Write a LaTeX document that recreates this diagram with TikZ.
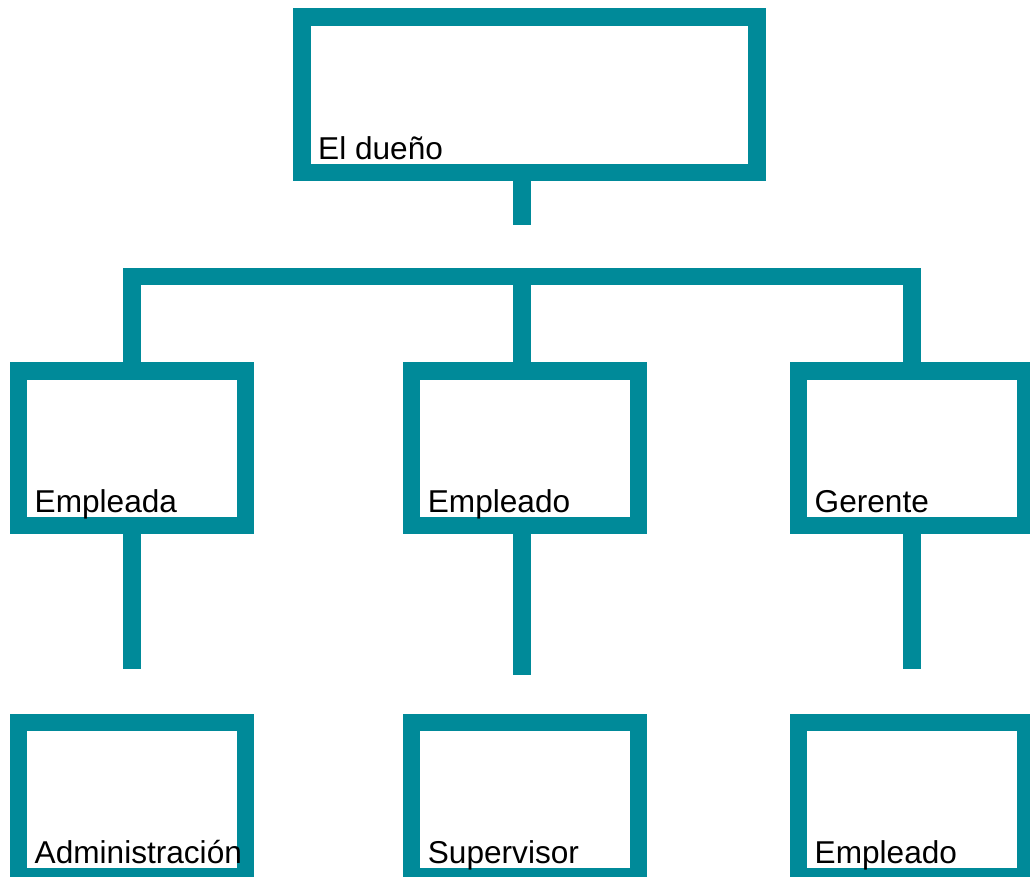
\documentclass[tikz,border=0pt]{standalone}
\usepackage{fontspec}
\setmainfont{Liberation Sans}
\usepackage{tikz}
\definecolor{petrol}{RGB}{0,138,153}
\tikzset{
    caja/.style={draw=petrol, line width=17.4pt, inner sep=0pt, outer sep=0pt,
                 minimum width=227pt, minimum height=154.5pt},
    linea/.style={draw=petrol, line width=17.4pt},
    texto/.style={anchor=base west, inner sep=0pt, font=\fontsize{31.6}{37}\selectfont}
}

\begin{document}
\begin{tikzpicture}[x=1pt, y=-1pt]
             \useasboundingbox (0,0) rectangle (1030,877);
             \node[caja, minimum width=455pt, minimum height=155.5pt] (duenio) at (529.5,94.75) {};
             \node[caja] (empleada) at (132,448.4) {};
             \node[caja] (empleado) at (525.2,448.4) {};
             \node[caja] (gerente) at (912,448.4) {};
             \node[caja] (admin) at (132,799.5) {};
             \node[caja] (super) at (525.2,799.5) {};
             \node[caja] (empleado2) at (912,799.5) {};
             \coordinate (tope) at (522,225.3);
             \coordinate (barra) at (522,276.7);
             \coordinate (fin1) at (132,669.3);
             \coordinate (fin2) at (522,675);
             \coordinate (fin3) at (912,669.3);
             \draw[linea] (duenio.south -| tope) -- (tope);
             \draw[linea] (empleada.north) |- (barra) -| (gerente.north);
             \draw[linea] (barra) -- (barra |- empleado.north);
             \draw[linea] (empleada.south) -- (fin1);
             \draw[linea] (empleado.south -| fin2) -- (fin2);
             \draw[linea] (gerente.south) -- (fin3);
             \node[texto] (t-duenio) at ([xshift=16pt, yshift=13pt]duenio.south west) {El dueño};
             \node[texto] (t-empleada) at ([xshift=16pt, yshift=13pt]empleada.south west) {Empleada};
             \node[texto] (t-empleado) at ([xshift=16pt, yshift=13pt]empleado.south west) {Empleado};
             \node[texto] (t-gerente) at ([xshift=16pt, yshift=13pt]gerente.south west) {Gerente};
             \node[texto] (t-admin) at ([xshift=16pt, yshift=13pt]admin.south west) {Administración};
             \node[texto] (t-super) at ([xshift=16pt, yshift=13pt]super.south west) {Supervisor};
             \node[texto] (t-empleado2) at ([xshift=16pt, yshift=13pt]empleado2.south west) {Empleado};
         \end{tikzpicture}
\end{document}
